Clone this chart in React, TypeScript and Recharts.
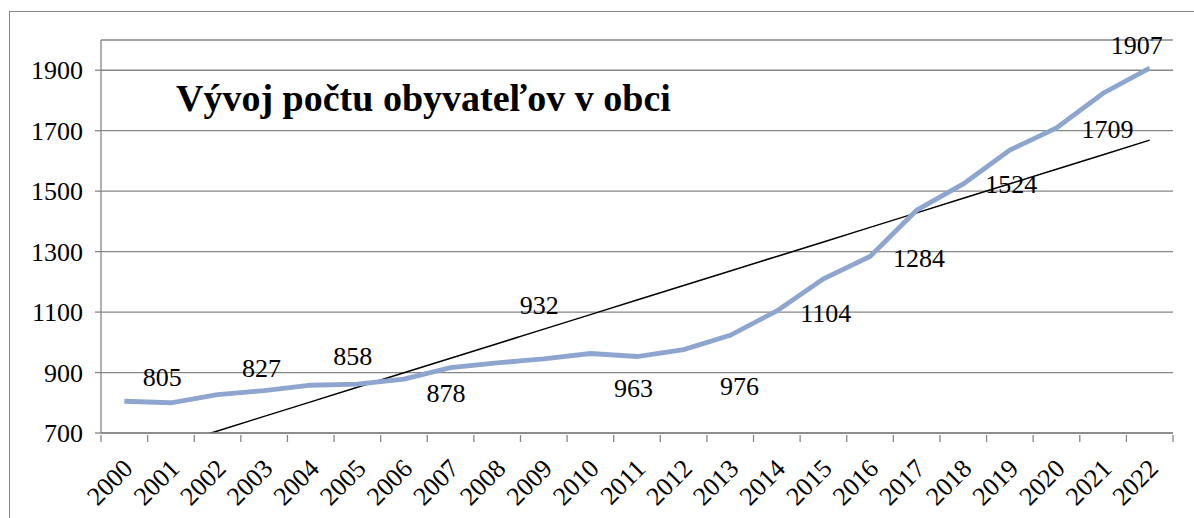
import React from 'react';
import { LineChart, Line, XAxis, YAxis, CartesianGrid, LabelList } from 'recharts';

const categories = ['2000','2001','2002','2003','2004','2005','2006','2007','2008','2009','2010','2011','2012','2013','2014','2015','2016','2017','2018','2019','2020','2021','2022'];
const population = [805, 800, 827, 840, 858, 862, 878, 916, 932, 945, 963, 953, 976, 1023, 1104, 1210, 1284, 1437, 1524, 1636, 1709, 1824, 1907];
const yTicks = [700, 900, 1100, 1300, 1500, 1700, 1900];
const yDomain = [700, 2000];
const title = 'Vývoj počtu obyvateľov v obci';

// label placement (styling): offset of label centre from its point, px
const labelOffsets: Record<string, [number, number]> = {
  '2000': [38, -24], '2002': [44, -26], '2004': [42, -29], '2006': [42, 14],
  '2008': [42, -57], '2010': [43, 35], '2012': [56, 37], '2014': [49, 3],
  '2016': [49, 2], '2018': [48, 1], '2020': [51, 2], '2022': [-13, -23],
};

// linear trend (least squares) built from the series
const n = population.length;
const meanX = (n - 1) / 2;
const meanY = population.reduce((a, b) => a + b, 0) / n;
let sxy = 0, sxx = 0;
population.forEach((v, i) => { sxy += (i - meanX) * (v - meanY); sxx += (i - meanX) ** 2; });
const slope = sxy / sxx;
const intercept = meanY - slope * meanX;

const data = categories.map((c, i) => ({ year: c, pop: population[i], trend: intercept + slope * i }));

const W = 1184, H = 506;
const M = { top: 28, right: 21, bottom: 0, left: 0 };
const Y_W = 91;
const X_H = 85;
const PLOT_W = W - M.left - M.right - Y_W;
const BAND = PLOT_W / categories.length;
const FONT = '"Liberation Serif", "Times New Roman", serif';
const GRID = '#868686';
const textStyle = { fontFamily: FONT, fontSize: 26, fill: '#000' };

const XTick = (props: any) => {
  const { x, y, payload, index } = props;
  const bx = x - BAND / 2;
  const last = index === categories.length - 1;
  const ax = x + 10, ay = y + 35;
  return (
    <g>
      <line x1={bx} y1={y} x2={bx} y2={y + 7} stroke={GRID} strokeWidth={1.3} />
      {last && <line x1={x + BAND / 2} y1={y} x2={x + BAND / 2} y2={y + 7} stroke={GRID} strokeWidth={1.3} />}
      <text x={ax} y={ay} transform={`rotate(-45, ${ax}, ${ay})`} textAnchor="end" style={textStyle}>{payload.value}</text>
    </g>
  );
};

const PointLabel = (props: any) => {
  const { x, y, index, value } = props;
  const off = labelOffsets[categories[index]];
  if (!off) return null;
  return (
    <text x={x + off[0]} y={y + off[1]} textAnchor="middle" dominantBaseline="central" style={textStyle}>{value}</text>
  );
};

export default function App() {
  return (
    <div style={{ position: 'fixed', left: 9, top: 11, width: 1190, height: 520, border: `1px solid ${GRID}`, background: '#fff' }}>
      <div style={{ position: 'relative', width: W, height: H }}>
        <LineChart width={W} height={H} data={data} margin={M} style={{ fontFamily: FONT }}>
          <CartesianGrid horizontal vertical={false} stroke={GRID} strokeWidth={1.3} />
          <XAxis dataKey="year" interval={0} height={X_H} tickSize={0} tickLine={false} padding={{ left: BAND / 2, right: BAND / 2 }}
            axisLine={{ stroke: GRID, strokeWidth: 1.3 }} tick={<XTick />} />
          <YAxis type="number" domain={yDomain} ticks={yTicks} allowDataOverflow width={Y_W} tickSize={6} tickMargin={12}
            axisLine={{ stroke: GRID, strokeWidth: 1.3 }} tickLine={{ stroke: GRID, strokeWidth: 1.3 }}
            tick={{ style: textStyle, fontFamily: FONT, fontSize: 26, fill: '#000' }} />
          <Line type="linear" dataKey="trend" stroke="#000" strokeWidth={1.5} dot={false} activeDot={false} isAnimationActive={false} />
          <Line type="linear" dataKey="pop" stroke="#8EA6CF" strokeWidth={4.8} dot={false} activeDot={false} isAnimationActive={false}>
            <LabelList dataKey="pop" content={<PointLabel />} />
          </Line>
        </LineChart>
        <div style={{ position: 'absolute', left: 166, top: 64, fontFamily: FONT, fontWeight: 'bold', fontSize: 38, color: '#000', whiteSpace: 'nowrap', lineHeight: '44px' }}>{title}</div>
      </div>
    </div>
  );
}
